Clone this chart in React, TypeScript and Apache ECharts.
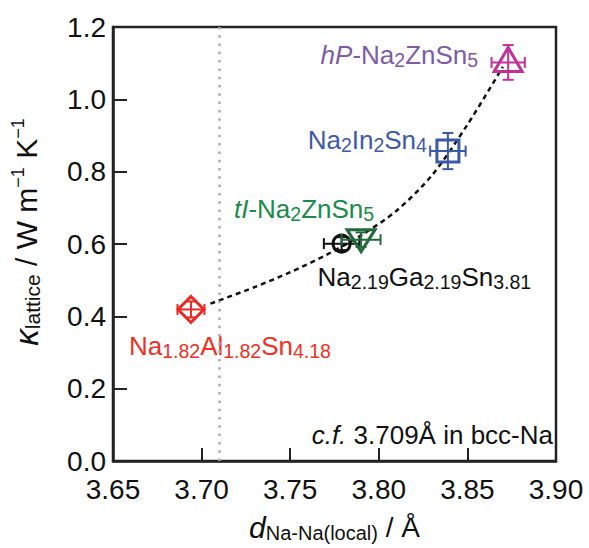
import React, { useEffect, useRef } from "react";
import * as echarts from "echarts";

// ---- data ----
const compounds = ["Na1.82Al1.82Sn4.18", "Na2.19Ga2.19Sn3.81", "tI-Na2ZnSn5", "Na2In2Sn4", "hP-Na2ZnSn5"];
const dNaNa = [3.694, 3.779, 3.79, 3.839, 3.873];
const kappaLattice = [0.419, 0.601, 0.612, 0.857, 1.102];
const dNaNaErr = [0.0076, 0.01, 0.011, 0.01, 0.0094];
const kappaErr = [0.022, 0.018, 0.02, 0.05, 0.048];

const fitD = [3.705, 3.73, 3.75, 3.77, 3.79, 3.81, 3.83, 3.85, 3.87];
const fitKappa = [0.435, 0.481, 0.522, 0.569, 0.624, 0.692, 0.79, 0.93, 1.09];

const bccNaDistance = 3.709;
const xMin = 3.65;
const xMax = 3.9;
const xStep = 0.05;
const yMin = 0;
const yMax = 1.2;
const yStep = 0.2;

// label tokens: [style, text]
const labelTokens: [string, string][][] = [
  [["n", "Na"], ["s", "1.82"], ["n", "Al"], ["s", "1.82"], ["n", "Sn"], ["s", "4.18"]],
  [["n", "Na"], ["s", "2.19"], ["n", "Ga"], ["s", "2.19"], ["n", "Sn"], ["s", "3.81"]],
  [["i", "tI"], ["n", "-Na"], ["s", "2"], ["n", "ZnSn"], ["s", "5"]],
  [["n", "Na"], ["s", "2"], ["n", "In"], ["s", "2"], ["n", "Sn"], ["s", "4"]],
  [["i", "hP"], ["n", "-Na"], ["s", "2"], ["n", "ZnSn"], ["s", "5"]],
];

// ---- styles ----
const FONT = "'Liberation Sans', Arial, Helvetica, sans-serif";
const markerStyles = [
  { shape: "diamond", color: "#ec2a24", size: 13 },
  { shape: "circle", color: "#111111", size: 8.5 },
  { shape: "triangleDown", color: "#226a3c", size: 14 },
  { shape: "square", color: "#3a5aa8", size: 11 },
  { shape: "triangleUp", color: "#c2329a", size: 14 },
];
const labelStyles = [
  { color: "#ee3124", dx: -62, dy: 37, align: "left" },
  { color: "#111111", dx: -24, dy: 33, align: "left" },
  { color: "#1a8c48", dx: -57, dy: -31, align: "center" },
  { color: "#3d5ba9", dx: -21, dy: -11, align: "right" },
  { color: "#7f5ba8", dx: -30, dy: -7, align: "right" },
];

function richFor(color: string) {
  return {
    n: { fontSize: 26, lineHeight: 30, fill: color, fontFamily: FONT, verticalAlign: "middle" },
    i: { fontSize: 26, lineHeight: 30, fill: color, fontFamily: FONT, fontStyle: "italic", verticalAlign: "middle" },
    s: { fontSize: 19.5, lineHeight: 12, fill: color, fontFamily: FONT, verticalAlign: "bottom" },
  };
}

export default function App() {
  const ref = useRef<HTMLDivElement>(null);
  useEffect(() => {
    if (!ref.current) return;
    document.body.style.margin = "0";
    const chart = echarts.init(ref.current, null, { renderer: "svg" });

    const pointData = dNaNa.map((d, i) => [d, kappaLattice[i], dNaNaErr[i], kappaErr[i]]);

    const renderItem = (params: any, api: any) => {
      const i = params.dataIndex;
      const x = api.value(0);
      const y = api.value(1);
      const ex = api.value(2);
      const ey = api.value(3);
      const c = api.coord([x, y]);
      const l = api.coord([x - ex, y]);
      const r = api.coord([x + ex, y]);
      const t = api.coord([x, y + ey]);
      const b = api.coord([x, y - ey]);
      const ms = markerStyles[i];
      const ls = labelStyles[i];
      const es = { stroke: ms.color, lineWidth: 2, fill: "none" };
      const cap = 5.5;
      const children: any[] = [
        { type: "line", shape: { x1: l[0], y1: c[1], x2: r[0], y2: c[1] }, style: es },
        { type: "line", shape: { x1: l[0], y1: c[1] - cap, x2: l[0], y2: c[1] + cap }, style: es },
        { type: "line", shape: { x1: r[0], y1: c[1] - cap, x2: r[0], y2: c[1] + cap }, style: es },
        { type: "line", shape: { x1: c[0], y1: t[1], x2: c[0], y2: b[1] }, style: es },
        { type: "line", shape: { x1: c[0] - cap, y1: t[1], x2: c[0] + cap, y2: t[1] }, style: es },
        { type: "line", shape: { x1: c[0] - cap, y1: b[1], x2: c[0] + cap, y2: b[1] }, style: es },
      ];
      const ss = { stroke: ms.color, lineWidth: 3, fill: "none" };
      const h = ms.size;
      if (ms.shape === "diamond") {
        children.push({ type: "polygon", shape: { points: [[c[0], c[1] - h], [c[0] + h, c[1]], [c[0], c[1] + h], [c[0] - h, c[1]]] }, style: ss });
      } else if (ms.shape === "circle") {
        children.push({ type: "circle", shape: { cx: c[0], cy: c[1], r: h }, style: ss });
      } else if (ms.shape === "square") {
        children.push({ type: "rect", shape: { x: c[0] - h, y: c[1] - h, width: 2 * h, height: 2 * h }, style: ss });
      } else if (ms.shape === "triangleDown") {
        children.push({ type: "polygon", shape: { points: [[c[0] - h, c[1] - 10], [c[0] + h, c[1] - 10], [c[0], c[1] + 12]] }, style: ss });
      } else if (ms.shape === "triangleUp") {
        children.push({ type: "polygon", shape: { points: [[c[0] - h, c[1] + 9], [c[0] + h, c[1] + 9], [c[0], c[1] - 15]] }, style: ss });
      }
      const text = labelTokens[i].map(([s, tx]) => `{${s}|${tx}}`).join("");
      children.push({
        type: "text",
        x: c[0] + ls.dx,
        y: c[1] + ls.dy,
        style: {
          text,
          rich: richFor(ls.color),
          fill: ls.color,
          align: ls.align,
          verticalAlign: "middle",
          font: `26px ${FONT}`,
        },
      });
      return { type: "group", children };
    };

    const xNameRich = {
      n: { fontSize: 28, lineHeight: 32, fontFamily: FONT, color: "#111", verticalAlign: "middle" },
      it: { fontSize: 30, lineHeight: 32, fontFamily: FONT, color: "#111", fontStyle: "italic", verticalAlign: "middle" },
      s: { fontSize: 20, lineHeight: 12, fontFamily: FONT, color: "#111", verticalAlign: "bottom" },
    };
    const yNameRich = {
      n: { fontSize: 30, lineHeight: 34, fontFamily: FONT, color: "#111", verticalAlign: "middle" },
      it: { fontSize: 33, lineHeight: 34, fontFamily: FONT, color: "#111", fontStyle: "italic", verticalAlign: "middle" },
      s: { fontSize: 21, lineHeight: 13, fontFamily: FONT, color: "#111", verticalAlign: "bottom" },
      p: { fontSize: 18, lineHeight: 14, fontFamily: FONT, color: "#111", verticalAlign: "top" },
    };

    chart.setOption({
      animation: false,
      backgroundColor: "#ffffff",
      grid: { left: 113, right: 33, top: 27, bottom: 80, show: true, borderColor: "#222", borderWidth: 2.5, backgroundColor: "transparent" },
      xAxis: {
        type: "value",
        min: xMin,
        max: xMax,
        interval: xStep,
        name: "{it|d}{s|Na-Na(local)}{n| / Å}",
        nameLocation: "middle",
        nameGap: 50,
        nameTextStyle: { rich: xNameRich },
        axisLine: { show: true, lineStyle: { color: "#222", width: 2.5 } },
        axisTick: { show: true, inside: true, length: 13, lineStyle: { color: "#222", width: 2 } },
        axisLabel: { fontSize: 28, lineHeight: 28, color: "#111", fontFamily: FONT, margin: 14, formatter: (v: number) => v.toFixed(2) },
        splitLine: { show: false },
      },
      yAxis: {
        type: "value",
        min: yMin,
        max: yMax,
        interval: yStep,
        name: "{it|κ}{s|lattice}{n| / W m}{p|−1}{n| K}{p|−1}",
        nameLocation: "middle",
        nameRotate: 90,
        nameGap: 70,
        nameTextStyle: { rich: yNameRich, padding: [0, 0, 0, 24] },
        axisLine: { show: true, lineStyle: { color: "#222", width: 2.5 } },
        axisTick: { show: true, inside: true, length: 14, lineStyle: { color: "#222", width: 2 } },
        axisLabel: { fontSize: 28, lineHeight: 24, color: "#111", fontFamily: FONT, margin: 7, formatter: (v: number) => v.toFixed(1) },
        splitLine: { show: false },
      },
      series: [
        {
          type: "line",
          data: [],
          markLine: {
            silent: true,
            symbol: "none",
            label: { show: false },
            lineStyle: { color: "#acacac", width: 2.5, type: [2.5, 5.8] },
            data: [{ xAxis: bccNaDistance }],
          },
          z: 1,
        },
        {
          type: "line",
          data: fitD.map((d, i) => [d, fitKappa[i]]),
          smooth: 0.3,
          showSymbol: false,
          symbol: "none",
          lineStyle: { color: "#111", width: 2.5, type: [5, 4] },
          z: 2,
        },
        {
          type: "custom",
          data: pointData,
          renderItem,
          z: 3,
        },
      ],
      graphic: [
        {
          type: "text",
          right: 36,
          top: 422,
          style: {
            text: "{i|c.f.}{n| 3.709Å in bcc-Na}",
            rich: {
              i: { fontSize: 26, fontStyle: "italic", fontFamily: FONT, fill: "#111" },
              n: { fontSize: 26, fontFamily: FONT, fill: "#111" },
            },
            font: `26px ${FONT}`,
          },
        },
      ],
    });
    return () => chart.dispose();
  }, []);
  return <div ref={ref} style={{ width: 589, height: 548 }} />;
}
